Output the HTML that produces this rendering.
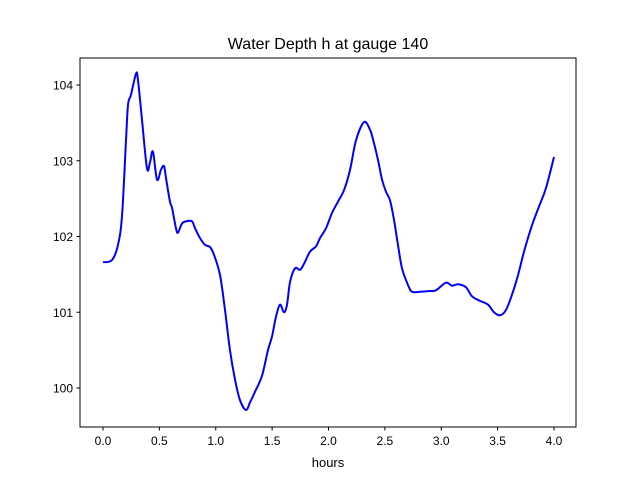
<!DOCTYPE html>
<html><head><meta charset="utf-8"><style>
body{margin:0;background:#fff;}
svg{display:block;font-family:"Liberation Sans","DejaVu Sans",sans-serif;}
</style></head><body>
<svg id="chart" width="640" height="480">
<rect x="0" y="0" width="640" height="480" fill="#fff"/>
<text x="328" y="49" text-anchor="middle" font-size="16">Water Depth h at gauge 140</text>
<text x="328" y="467" text-anchor="middle" font-size="13">hours</text>
<g id="ticks"></g>
<path id="line" fill="none" stroke="#0000ff" stroke-width="2" stroke-linejoin="round"/>
<rect x="80" y="58" width="496" height="369" fill="none" stroke="#000" stroke-width="1"/>
</svg>
<script>
const hours=[0,.08,.133,.169,.204,.222,.248,.293,.31,.346,.39,.417,.443,.479,.514,.541,.559,.594,.612,.647,.665,.70,.736,.789,.816,.86,.905,.949,.984,1.038,1.082,1.126,1.171,1.215,1.268,1.304,1.348,1.41,1.463,1.499,1.534,1.57,1.605,1.632,1.659,1.703,1.747,1.783,1.836,1.889,1.925,1.978,2.031,2.084,2.137,2.191,2.244,2.315,2.368,2.404,2.439,2.475,2.51,2.545,2.581,2.616,2.652,2.705,2.741,2.812,2.9,2.953,3.042,3.095,3.149,3.219,3.273,3.344,3.415,3.468,3.521,3.574,3.627,3.681,3.734,3.805,3.876,3.929,4.0];
const depth=[101.66,101.69,101.89,102.28,103.27,103.74,103.87,104.15,104.07,103.54,102.9,102.98,103.12,102.75,102.88,102.93,102.77,102.46,102.38,102.11,102.05,102.17,102.2,102.2,102.11,101.98,101.89,101.86,101.76,101.49,101.03,100.5,100.11,99.84,99.71,99.81,99.95,100.16,100.5,100.68,100.94,101.1,101.0,101.1,101.4,101.58,101.56,101.64,101.8,101.87,101.98,102.11,102.31,102.46,102.61,102.88,103.27,103.51,103.41,103.23,103.01,102.75,102.59,102.48,102.22,101.89,101.58,101.36,101.27,101.27,101.28,101.29,101.39,101.35,101.37,101.33,101.21,101.15,101.1,101.0,100.96,101.03,101.23,101.49,101.8,102.15,102.43,102.64,103.05];
const xTicks=[0,0.5,1,1.5,2,2.5,3,3.5,4];
const xTickLabels=["0.0","0.5","1.0","1.5","2.0","2.5","3.0","3.5","4.0"];
const yTicks=[100,101,102,103,104];
const yTickLabels=["100","101","102","103","104"];
const X=h=>103+h*112.75;
const Y=v=>85+(104-v)*75.75;
const NS="http://www.w3.org/2000/svg";
const g=document.getElementById('ticks');
function mk(tag,attrs){const e=document.createElementNS(NS,tag);for(const k in attrs)e.setAttribute(k,attrs[k]);return e;}
xTicks.forEach((t,i)=>{
  const l=mk('line',{x1:X(t),x2:X(t),y1:427,y2:430.5,stroke:'#000'});
  
  
  g.appendChild(l);
  const tx=mk('text',{x:X(t),y:445,'text-anchor':'middle','font-size':'12'});
  tx.textContent=xTickLabels[i];
  
  
  g.appendChild(tx);
});
yTicks.forEach((t,i)=>{
  const l=mk('line',{x1:76.5,x2:80,y1:Y(t),y2:Y(t),stroke:'#000'});
  
  
  g.appendChild(l);
  const tx=mk('text',{x:73,y:Y(t)+4.5,'text-anchor':'end','font-size':'12'});
  tx.textContent=yTickLabels[i];
  
  
  g.appendChild(tx);
});
// Catmull-Rom smoothing through the data points
const P=hours.map((h,i)=>[X(h),Y(depth[i])]);
let d='M'+P[0][0]+','+P[0][1];
for(let i=0;i<P.length-1;i++){
  const p0=P[Math.max(0,i-1)],p1=P[i],p2=P[i+1],p3=P[Math.min(P.length-1,i+2)];
  const c1=[p1[0]+(p2[0]-p0[0])/6,p1[1]+(p2[1]-p0[1])/6];
  const c2=[p2[0]-(p3[0]-p1[0])/6,p2[1]-(p3[1]-p1[1])/6];
  d+=' C'+c1[0]+','+c1[1]+' '+c2[0]+','+c2[1]+' '+p2[0]+','+p2[1];
}
document.getElementById('line').setAttribute('d',d);
</script>
</body></html>
